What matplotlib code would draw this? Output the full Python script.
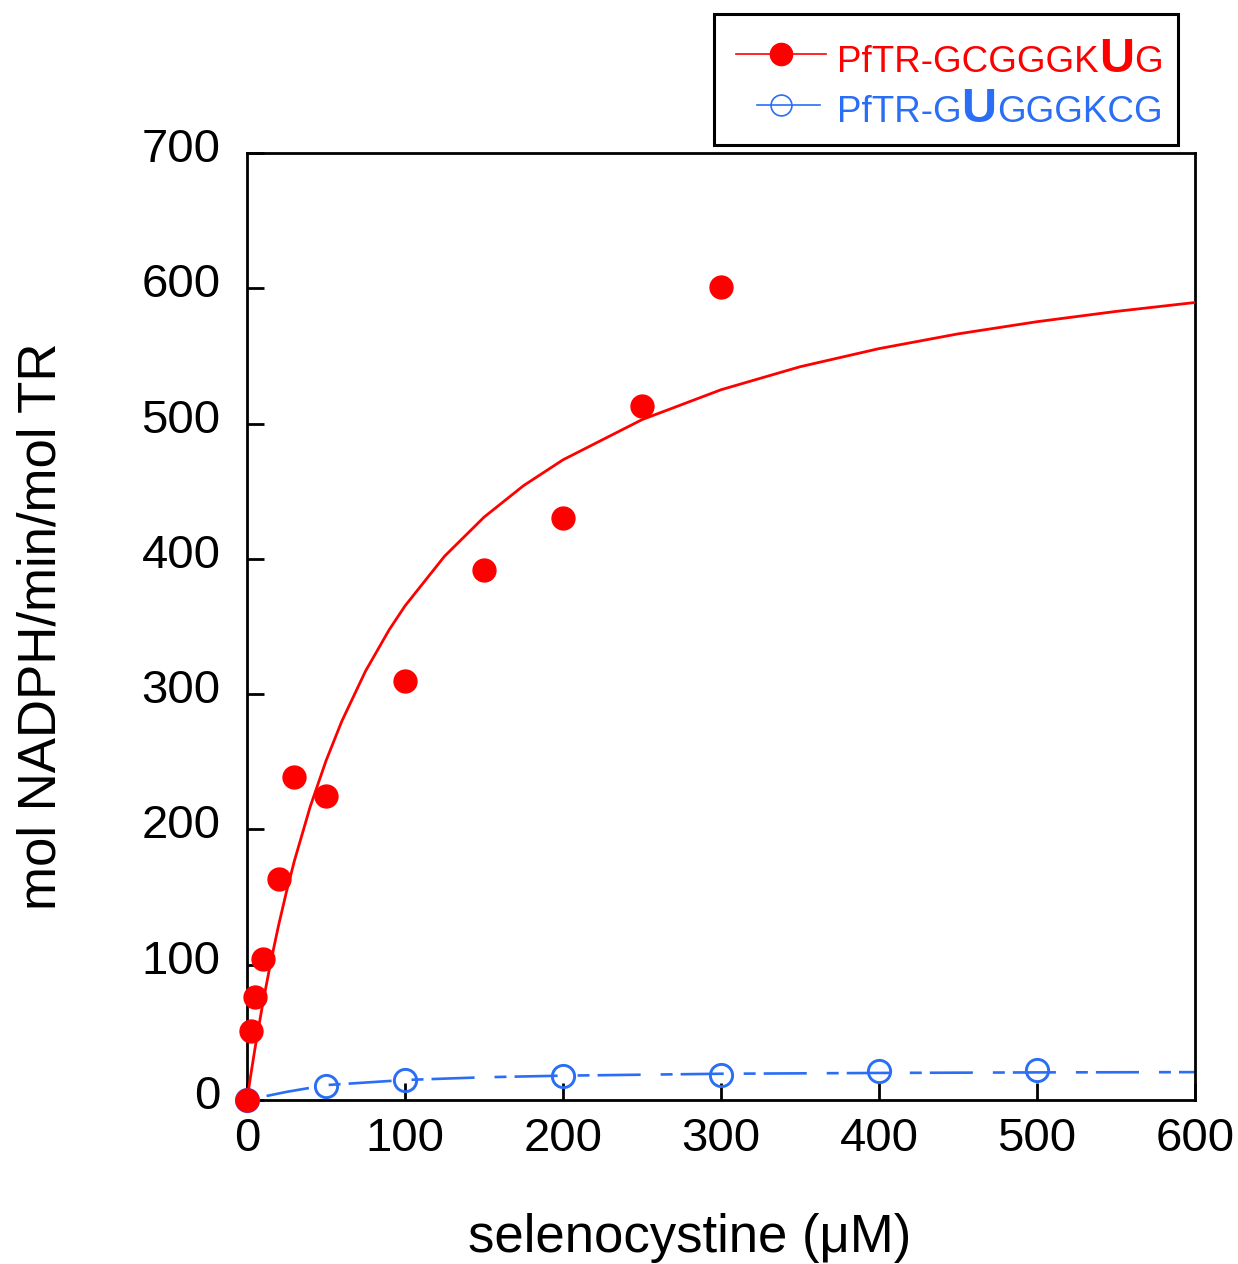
import matplotlib
matplotlib.use("Agg")
import matplotlib.pyplot as plt
from matplotlib.patches import Rectangle
from matplotlib.lines import Line2D
from matplotlib.transforms import ScaledTranslation

plt.rcParams['font.family'] = ['Liberation Sans', 'DejaVu Sans']
plt.rcParams['lines.scale_dashes'] = False

# Measured points
red_x = [0, 2.5, 5, 10, 20, 30, 50, 100, 150, 200, 250, 300]
red_y = [0, 51, 76, 104, 163, 239, 225, 310, 392, 430, 513, 601]
blue_x = [0, 50, 100, 200, 300, 400, 500]
blue_y = [0, 10.3, 14.8, 17.7, 18.5, 21.4, 22]

# Fitted curves
red_fit_x = [0, 2, 5, 10, 15, 20, 25, 30, 40, 50, 60, 75, 90, 100, 125, 150, 175, 200,
             250, 300, 350, 400, 450, 500, 550, 600]
red_fit_y = [0, 15.6, 37.7, 71.5, 101.8, 129.2, 154.1, 176.8, 216.8, 250.7, 280, 317, 347.6,
             365.2, 401.9, 430.8, 454.1, 473.2, 502.9, 525, 542, 555.4, 566.3, 575.3, 582.9, 589.5]
blue_fit_x = [0, 25, 50, 100, 150, 200, 300, 400, 500, 600]
blue_fit_y = [0, 6, 11, 14.8, 16.8, 18, 19.4, 20, 20.4, 20.6]

xticks = [0, 100, 200, 300, 400, 500, 600]
yticks = [0, 100, 200, 300, 400, 500, 600, 700]

RED = '#ff0000'
BLUE = '#2a6ef5'

W, H = 1238, 1264
fig = plt.figure(figsize=(W / 100, H / 100), dpi=100)
ax = fig.add_axes([247 / W, (H - 1100) / H, 948 / W, 947 / H])

ax.plot(blue_fit_x, blue_fit_y, color=BLUE, lw=1.9, ls=(0, (8.6, 5.8, 31, 14.4)), zorder=2)
ax.plot(blue_x, blue_y, 'o', mfc='none', mec=BLUE, mew=2.1, ms=16, clip_on=False, zorder=3)
ax.plot(red_fit_x, red_fit_y, color=RED, lw=2, zorder=4)
ax.plot(red_x, red_y, 'o', color=RED, ms=16.5, mec=RED, clip_on=False, zorder=5)

ax.set_xlim(0, 600)
ax.set_ylim(0, 700)
ax.set_xticks(xticks)
ax.set_yticks(yticks)
ax.tick_params(direction='in', length=12, width=2, labelsize=34, top=False, right=False)
ax.tick_params(axis='y', pad=19)
ax.tick_params(axis='x', pad=12)
for s in ax.spines.values():
    s.set_linewidth(2)

# y tick labels sit a little above their ticks in the original
shift = ScaledTranslation(0, 8 / 100, fig.dpi_scale_trans)
for lab in ax.get_yticklabels():
    lab.set_transform(lab.get_transform() + shift)

fig.text(690 / W, 1 - 1238 / H, 'selenocystine (\u03bcM)', fontsize=38, ha='center', va='center')
fig.text(42 / W, 1 - 626 / H, 'mol NADPH/min/mol TR', fontsize=38, ha='center', va='center', rotation=90)

# legend box drawn by hand (mixed font sizes in labels)
fig.patches.append(Rectangle((714 / W, 1 - 145 / H), 464 / W, 131 / H, transform=fig.transFigure,
                             fill=False, ec='black', lw=2.2))
fig.lines.append(Line2D([736 / W, 826 / W], [1 - 54 / H, 1 - 54 / H], transform=fig.transFigure,
                        color=RED, lw=1.2))
fig.lines.append(Line2D([781 / W], [1 - 54 / H], transform=fig.transFigure, marker='o',
                        color=RED, ms=16))
fig.lines.append(Line2D([757 / W, 820 / W], [1 - 105 / H, 1 - 105 / H], transform=fig.transFigure,
                        color=BLUE, lw=1.2))
fig.lines.append(Line2D([781 / W], [1 - 105 / H], transform=fig.transFigure, marker='o',
                        mfc='none', mec=BLUE, mew=1.2, ms=15))

renderer = fig.canvas.get_renderer()


def label(x, y, pieces, color):
    for txt, size, weight in pieces:
        t = fig.text(x / W, 1 - y / H, txt, fontsize=size, fontweight=weight, color=color, va='baseline')
        bb = t.get_window_extent(renderer)
        x = bb.x1


label(837, 72, [('PfTR-GCGGGK', 26.5, 'normal'), ('U', 35, 'bold'), ('G', 26.5, 'normal')], RED)
label(837, 122, [('PfTR-G', 26.5, 'normal'), ('U', 35, 'bold'), ('GGGKCG', 26.5, 'normal')], BLUE)

fig.savefig('out.png', dpi=100)
